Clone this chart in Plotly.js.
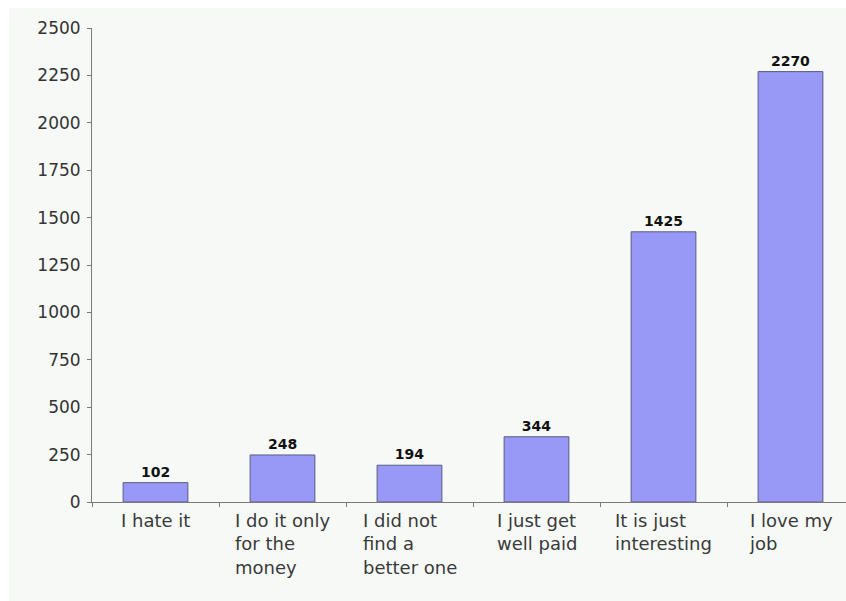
<!DOCTYPE html>
<html>
<head>
<meta charset="utf-8">
<script src="https://cdn.plot.ly/plotly-3.0.1.min.js"></script>
<style>
  html, body { margin: 0; padding: 0; background: #ffffff; overflow: hidden; }
  #chart { position: absolute; left: 9px; top: 8px; width: 837px; height: 593px; }
</style>
</head>
<body>
<div id="chart"></div>
<script>
const categories = ["I hate it", "I do it only for the money", "I did not find a better one", "I just get well paid", "It is just interesting", "I love my job"];
const labelLines = ["I hate it", "I do it only<br>for the<br>money", "I did not<br>find a<br>better one", "I just get<br>well paid", "It is just<br>interesting", "I love my<br>job"];
const counts = [102, 248, 194, 344, 1425, 2270];
const yTicks = [0, 250, 500, 750, 1000, 1250, 1500, 1750, 2000, 2250, 2500];

const bg = "#f6f9f6";
const fontFam = "DejaVu Sans, Liberation Sans, Arial, sans-serif";

const trace = {
  type: "bar",
  x: categories,
  y: counts,
  width: 0.51,
  marker: { color: "#9898f6", line: { color: "#5a5a80", width: 1 } },
  text: counts.map(String),
  textposition: "outside",
  cliponaxis: false,
  textfont: { family: fontFam, size: 14, color: "#111111", weight: "bold" },
  hoverinfo: "x+y"
};

const annotations = categories.map((c, i) => ({
  x: c, xref: "x",
  y: 0, yref: "paper",
  yanchor: "top", xanchor: "center",
  align: "left",
  showarrow: false,
  yshift: -6,
  text: labelLines[i],
  font: { family: fontFam, size: 18, color: "#3a3a3a" }
}));

const layout = {
  width: 837, height: 593,
  margin: { l: 83, r: 0, t: 20, b: 99, pad: 0 },
  paper_bgcolor: bg,
  plot_bgcolor: bg,
  showlegend: false,
  bargap: 0.49,
  xaxis: {
    type: "category",
    range: [-0.5, 5.437],
    showline: true, linecolor: "#7a7a7a", linewidth: 1,
    ticks: "outside", tickson: "boundaries", ticklen: 4, tickcolor: "#7a7a7a",
    showticklabels: false,
    showgrid: false, zeroline: false, fixedrange: true
  },
  yaxis: {
    range: [0, 2500],
    tickvals: yTicks,
    ticktext: yTicks.map(String),
    showline: true, linecolor: "#7a7a7a", linewidth: 1,
    ticks: "outside", ticklen: 4, tickcolor: "#7a7a7a",
    ticklabelstandoff: 3,
    tickfont: { family: fontFam, size: 17, color: "#333333" },
    showgrid: false, zeroline: false, fixedrange: true
  },
  annotations: annotations
};

Plotly.newPlot("chart", [trace], layout, { displayModeBar: false, staticPlot: true });
</script>
</body>
</html>
